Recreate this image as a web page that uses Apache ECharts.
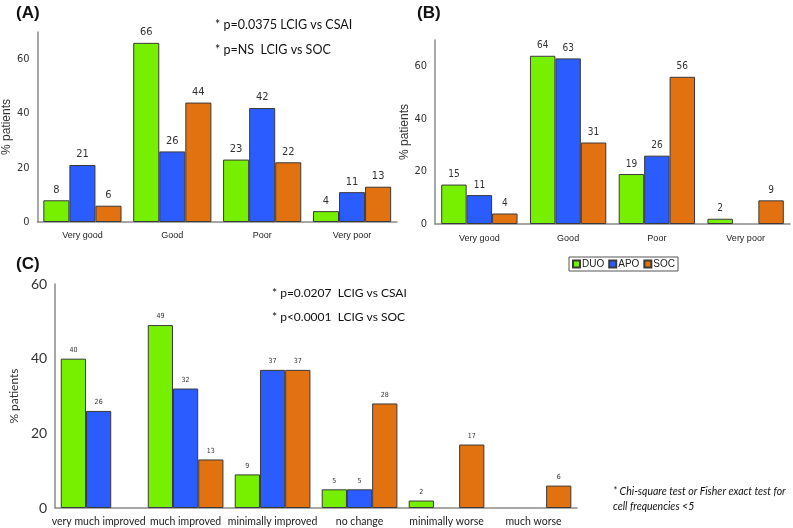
<!DOCTYPE html>
<html><head><meta charset="utf-8">
<script src="https://cdn.jsdelivr.net/npm/echarts@6/dist/echarts.min.js"></script>
<style>html,body{margin:0;padding:0;background:#fff}#c{width:793px;height:528px}</style>
</head><body><div id="c"></div>
<script>
const seriesNames = ['DUO', 'APO', 'SOC'];
const colors = ['#77f000', '#2a5cff', '#e2720f'];

const catsA = ['Very good', 'Good', 'Poor', 'Very poor'];
const duoA = [8, 66, 23, 4];
const apoA = [21, 26, 42, 11];
const socA = [6, 44, 22, 13];

const catsB = ['Very good', 'Good', 'Poor', 'Very poor'];
const duoB = [15, 64, 19, 2];
const apoB = [11, 63, 26, null];
const socB = [4, 31, 56, 9];

const catsC = ['very much improved', 'much improved', 'minimally improved', 'no change', 'minimally worse', 'much worse'];
const duoC = [40, 49, 9, 5, 2, null];
const apoC = [26, 32, 37, 5, null, null];
const socC = [null, 13, 37, 28, 17, 6];

const yTicksAB = [0, 20, 40, 60];
const yTicksC = [0, 20, 40, 60];

const fAB = '"DejaVu Sans Condensed", "DejaVu Sans"';
const fC = 'Lato';

function mkSeries(vals, gi, fontSize, fontFamily, dist) {
  return vals.map((v, i) => ({
    name: seriesNames[i], type: 'bar', xAxisIndex: gi, yAxisIndex: gi,
    data: v, barGap: '0%', barCategoryGap: gi === 1 ? '14%' : '13%',
    itemStyle: { color: colors[i], borderColor: '#3a3a3a', borderWidth: 1 },
    label: { show: true, position: 'top', distance: dist, fontSize: fontSize, fontFamily: fontFamily, color: '#333' }
  }));
}

function yAxis(gi, max, fontSize, fontFamily, nameGap, ticks) {
  return {
    type: 'value', gridIndex: gi, min: 0, max: max, interval: 20,
    name: '% patients', nameLocation: 'middle', nameGap: nameGap, nameRotate: 90,
    nameTextStyle: { fontSize: 12, fontFamily: gi === 2 ? fC : 'Liberation Sans', color: '#333' },
    axisLine: { show: true, lineStyle: { color: '#8a8a8a', width: 1.5 } },
    axisTick: { show: false }, splitLine: { show: false },
    axisLabel: { showMaxLabel: max === 60, fontSize: fontSize, fontFamily: fontFamily, color: '#333', margin: 8,
      formatter: v => ticks.includes(v) ? String(v) : '' }
  };
}

function xAxis(gi, cats, fontSize, fontFamily, margin) {
  return {
    type: 'category', gridIndex: gi, data: cats,
    axisLine: { lineStyle: { color: '#8a8a8a', width: 1.5 } },
    axisTick: { show: false },
    axisLabel: { interval: 0, fontSize: fontSize, fontFamily: fontFamily, color: '#222', margin: margin }
  };
}

const chart = echarts.init(document.getElementById('c'), null, { renderer: 'canvas' });
chart.setOption({
  animation: false,
  backgroundColor: '#fff',
  grid: [
    { left: 34, top: 32, width: 363, height: 190 },
    { left: 435, top: 40, width: 355, height: 184 },
    { left: 48, top: 284, width: 529, height: 224 }
  ],
  legend: {
    data: seriesNames, left: 569, top: 257, orient: 'horizontal',
    itemWidth: 7, itemHeight: 7, itemGap: 4, padding: [2, 3, 2, 3],
    borderColor: '#555', borderWidth: 1, borderRadius: 0,
    textStyle: { fontSize: 10, fontFamily: 'Liberation Sans', color: '#222', padding: [0, 0, 0, -3] },
    icon: 'rect'
  },
  xAxis: [xAxis(0, catsA, 9, 'Liberation Sans', 9), xAxis(1, catsB, 9, 'Liberation Sans', 10),
          xAxis(2, catsC, 10.5, fC, 8)],
  yAxis: [yAxis(0, 70, 11, fAB, 24, yTicksAB), yAxis(1, 70, 11, fAB, 24, yTicksAB), yAxis(2, 60, 14, fC, 28, yTicksC)],
  series: [
    ...mkSeries([duoA, apoA, socA], 0, 11, fAB, 5),
    ...mkSeries([duoB, apoB, socB], 1, 10, fAB, 5),
    ...mkSeries([duoC, apoC, socC], 2, 7, fAB, 5)
  ],
  graphic: [
    { type: 'text', left: 16, top: 5, style: { text: '(A)', font: 'bold 17px "Liberation Sans"', fill: '#111' } },
    { type: 'text', left: 417, top: 5, style: { text: '(B)', font: 'bold 17px "Liberation Sans"', fill: '#111' } },
    { type: 'text', left: 16, top: 256, style: { text: '(C)', font: 'bold 17px "Liberation Sans"', fill: '#111' } },
    { type: 'text', left: 215, top: 18, style: { text: '* p=0.0375 LCIG vs CSAI', font: '12.5px Lato', fill: '#111' } },
    { type: 'text', left: 215, top: 43, style: { text: '* p=NS  LCIG vs SOC', font: '12.5px Lato', fill: '#111' } },
    { type: 'text', left: 272, top: 287, style: { text: '* p=0.0207  LCIG vs CSAI', font: '12px Lato', fill: '#111' } },
    { type: 'text', left: 272, top: 311, style: { text: '* p<0.0001  LCIG vs SOC', font: '12px Lato', fill: '#111' } },
    { type: 'text', left: 613, top: 484, style: { text: '* Chi-square test or Fisher exact test for\ncell frequencies <5', font: 'italic 10.5px Lato', lineHeight: 15, fill: '#111' } }
  ]
});
</script></body></html>
